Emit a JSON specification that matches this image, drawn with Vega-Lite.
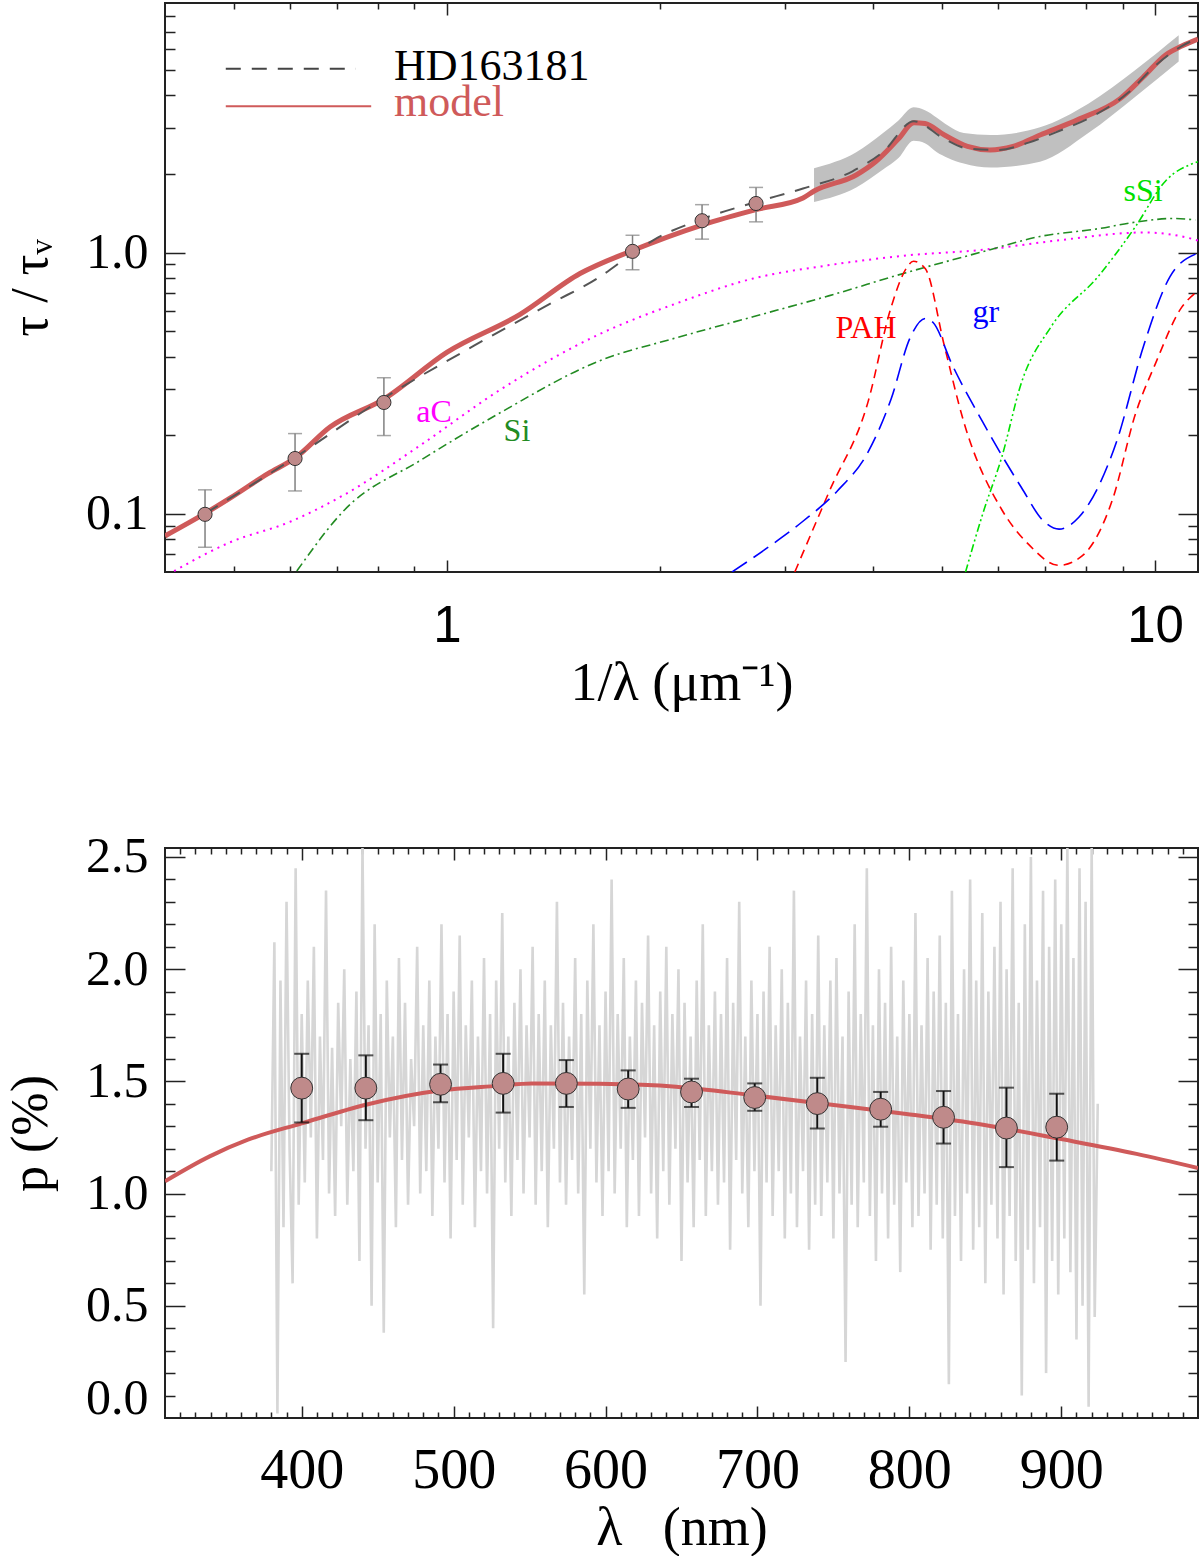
{
  "$schema": "https://vega.github.io/schema/vega-lite/v6.json",
  "background": "white",
  "padding": {"left": 3, "top": 1, "right": 0, "bottom": 0},
  "bounds": "flush",
  "spacing": 276,
  "config": {
    "view": {"stroke": "#222222", "strokeWidth": 2},
    "axis": {
      "grid": false, "domain": false, "zindex": 1,
      "tickColor": "#222222", "tickWidth": 1.5,
      "labelFont": "Liberation Serif", "titleFont": "Liberation Serif",
      "labelColor": "black", "titleColor": "black", "titleFontWeight": "normal"
    }
  },
  "datasets": {
    "band": [
      {"k": 3.30, "lo": 1.561, "hi": 2.101}, {"k": 3.785, "lo": 1.774, "hi": 2.419},
      {"k": 4.13, "lo": 2.078, "hi": 2.864}, {"k": 4.343, "lo": 2.30, "hi": 3.20},
      {"k": 4.56, "lo": 2.677, "hi": 3.59}, {"k": 4.733, "lo": 2.62, "hi": 3.50},
      {"k": 4.92, "lo": 2.419, "hi": 3.278}, {"k": 5.10, "lo": 2.30, "hi": 3.06},
      {"k": 5.37, "lo": 2.188, "hi": 2.864},
      {"k": 5.86, "lo": 2.113, "hi": 2.814}, {"k": 6.88, "lo": 2.225, "hi": 3.012},
      {"k": 8.05, "lo": 2.864, "hi": 3.71}, {"k": 9.38, "lo": 3.944, "hi": 4.99},
      {"k": 10.8, "lo": 5.38, "hi": 6.77}
    ],
    "aC": [
      {"k": 0.412, "t": 0.0605}, {"k": 0.4935, "t": 0.0778}, {"k": 0.602, "t": 0.0936},
      {"k": 0.717, "t": 0.1186}, {"k": 0.919, "t": 0.1837}, {"k": 1.179, "t": 0.294},
      {"k": 1.645, "t": 0.488}, {"k": 2.11, "t": 0.639}, {"k": 2.706, "t": 0.795},
      {"k": 3.47, "t": 0.895}, {"k": 4.45, "t": 0.974}, {"k": 5.71, "t": 1.024},
      {"k": 7.32, "t": 1.114}, {"k": 9.64, "t": 1.193}, {"k": 11.3, "t": 1.126},
      {"k": 11.5, "t": 1.11}
    ],
    "Si": [
      {"k": 0.614, "t": 0.0605}, {"k": 0.717, "t": 0.1036}, {"k": 0.919, "t": 0.1607},
      {"k": 1.179, "t": 0.2405}, {"k": 1.645, "t": 0.3857}, {"k": 2.11, "t": 0.472},
      {"k": 2.706, "t": 0.568}, {"k": 3.47, "t": 0.684}, {"k": 4.45, "t": 0.837},
      {"k": 5.71, "t": 1.007}, {"k": 6.88, "t": 1.152}, {"k": 8.31, "t": 1.233},
      {"k": 9.38, "t": 1.306}, {"k": 10.6, "t": 1.35}, {"k": 11.4, "t": 1.332}
    ],
    "sSi": [
      {"k": 5.40, "t": 0.0599}, {"k": 5.71, "t": 0.1}, {"k": 6.08, "t": 0.166},
      {"k": 6.47, "t": 0.315}, {"k": 7.14, "t": 0.522}, {"k": 8.31, "t": 0.809},
      {"k": 9.38, "t": 1.254}, {"k": 10.35, "t": 1.878}, {"k": 11.5, "t": 2.225}
    ],
    "PAH": [
      {"k": 3.10, "t": 0.06}, {"k": 3.47, "t": 0.1225}, {"k": 3.93, "t": 0.266},
      {"k": 4.24, "t": 0.618}, {"k": 4.45, "t": 0.866}, {"k": 4.56, "t": 0.926},
      {"k": 4.74, "t": 0.866}, {"k": 5.04, "t": 0.441}, {"k": 5.37, "t": 0.225},
      {"k": 6.08, "t": 0.1036}, {"k": 6.63, "t": 0.0765}, {"k": 7.32, "t": 0.0636},
      {"k": 7.89, "t": 0.0691}, {"k": 8.72, "t": 0.1147}, {"k": 9.38, "t": 0.2405},
      {"k": 10.0, "t": 0.3726}, {"k": 10.91, "t": 0.618}, {"k": 11.45, "t": 0.707}
    ],
    "gr": [
      {"k": 2.527, "t": 0.06}, {"k": 2.88, "t": 0.0765}, {"k": 3.18, "t": 0.0936},
      {"k": 3.56, "t": 0.1225}, {"k": 3.93, "t": 0.1717}, {"k": 4.24, "t": 0.2753},
      {"k": 4.51, "t": 0.472}, {"k": 4.74, "t": 0.559}, {"k": 4.86, "t": 0.54},
      {"k": 5.17, "t": 0.3726}, {"k": 5.71, "t": 0.225}, {"k": 6.47, "t": 0.1268},
      {"k": 6.97, "t": 0.0936}, {"k": 7.32, "t": 0.0875}, {"k": 7.80, "t": 0.0969},
      {"k": 8.83, "t": 0.19}, {"k": 9.64, "t": 0.441}, {"k": 10.5, "t": 0.809},
      {"k": 11.45, "t": 0.99}
    ],
    "model": [
      {"k": 0.400, "t": 0.0824}, {"k": 0.4556, "t": 0.1005}, {"k": 0.4935, "t": 0.1147},
      {"k": 0.559, "t": 0.1427}, {"k": 0.6105, "t": 0.1637}, {"k": 0.684, "t": 0.215},
      {"k": 0.815, "t": 0.275}, {"k": 1.0, "t": 0.415}, {"k": 1.269, "t": 0.58},
      {"k": 1.542, "t": 0.831}, {"k": 1.829, "t": 1.018}, {"k": 2.293, "t": 1.274},
      {"k": 2.733, "t": 1.459}, {"k": 3.184, "t": 1.616}, {"k": 3.301, "t": 1.719},
      {"k": 3.785, "t": 1.979}, {"k": 4.03, "t": 2.224}, {"k": 4.343, "t": 2.722},
      {"k": 4.567, "t": 3.136}, {"k": 4.733, "t": 3.114}, {"k": 5.042, "t": 2.814},
      {"k": 5.434, "t": 2.545}, {"k": 5.848, "t": 2.466}, {"k": 6.302, "t": 2.545},
      {"k": 6.882, "t": 2.814}, {"k": 7.784, "t": 3.223}, {"k": 8.93, "t": 3.877},
      {"k": 9.61, "t": 4.67}, {"k": 10.36, "t": 5.71}, {"k": 10.91, "t": 6.16},
      {"k": 11.5, "t": 6.55}
    ],
    "hd": [
      {"k": 0.4554, "t": 0.1002}, {"k": 0.610, "t": 0.1643}, {"k": 0.811, "t": 0.2753},
      {"k": 1.094, "t": 0.441}, {"k": 1.403, "t": 0.639}, {"k": 1.630, "t": 0.795},
      {"k": 1.829, "t": 0.99}, {"k": 1.958, "t": 1.116}, {"k": 2.293, "t": 1.342},
      {"k": 2.733, "t": 1.56}, {"k": 3.184, "t": 1.757}, {"k": 3.74, "t": 2.044},
      {"k": 4.13, "t": 2.423}, {"k": 4.567, "t": 3.175}, {"k": 5.04, "t": 2.72},
      {"k": 5.434, "t": 2.5}, {"k": 6.0, "t": 2.466}, {"k": 6.63, "t": 2.632},
      {"k": 7.32, "t": 2.915}, {"k": 8.19, "t": 3.333}, {"k": 9.16, "t": 4.08},
      {"k": 10.0, "t": 5.17}, {"k": 10.91, "t": 6.16}, {"k": 11.5, "t": 6.6}
    ],
    "obs": [
      {"k": 0.4556, "t": 0.0997, "lo": 0.0746, "hi": 0.1237},
      {"k": 0.6105, "t": 0.163, "lo": 0.1225, "hi": 0.203},
      {"k": 0.815, "t": 0.267, "lo": 0.1995, "hi": 0.332},
      {"k": 1.829, "t": 1.01, "lo": 0.859, "hi": 1.164},
      {"k": 2.293, "t": 1.323, "lo": 1.125, "hi": 1.524},
      {"k": 2.733, "t": 1.54, "lo": 1.31, "hi": 1.774}
    ],
    "labels": [
      {"label": "aC", "k": 0.959, "t": 0.2455},
      {"label": "Si", "k": 1.256, "t": 0.2077},
      {"label": "PAH", "k": 3.907, "t": 0.514},
      {"label": "gr", "k": 5.77, "t": 0.592},
      {"label": "sSi", "k": 9.62, "t": 1.719}
    ],
    "legendLines": [
      {"item": "HD163181", "k": 0.4874, "k2": 0.7441, "t": 5.045},
      {"item": "model", "k": 0.4874, "k2": 0.782, "t": 3.626}
    ],
    "legendText": [
      {"item": "HD163181", "k": 0.842, "t": 4.587},
      {"item": "model", "k": 0.842, "t": 3.333}
    ],
    "pol": [
      {"w": 400, "p": 1.470, "lo": 1.317, "hi": 1.623},
      {"w": 442.2, "p": 1.470, "lo": 1.327, "hi": 1.616},
      {"w": 491.4, "p": 1.487, "lo": 1.407, "hi": 1.575},
      {"w": 532.6, "p": 1.491, "lo": 1.361, "hi": 1.623},
      {"w": 574.2, "p": 1.491, "lo": 1.386, "hi": 1.595},
      {"w": 614.9, "p": 1.466, "lo": 1.382, "hi": 1.549},
      {"w": 656.6, "p": 1.453, "lo": 1.386, "hi": 1.512},
      {"w": 698.2, "p": 1.428, "lo": 1.369, "hi": 1.491},
      {"w": 739.4, "p": 1.401, "lo": 1.290, "hi": 1.516},
      {"w": 781.1, "p": 1.376, "lo": 1.298, "hi": 1.453},
      {"w": 822.5, "p": 1.340, "lo": 1.223, "hi": 1.457},
      {"w": 863.9, "p": 1.292, "lo": 1.118, "hi": 1.472},
      {"w": 897.0, "p": 1.296, "lo": 1.147, "hi": 1.445}
    ],
    "polModel": [
      {"w": 310, "p": 1.055}, {"w": 339.4, "p": 1.166}, {"w": 364.6, "p": 1.240},
      {"w": 400, "p": 1.313}, {"w": 442.9, "p": 1.397}, {"w": 490.9, "p": 1.459},
      {"w": 528.8, "p": 1.480}, {"w": 551.5, "p": 1.491}, {"w": 596, "p": 1.489},
      {"w": 646.5, "p": 1.476}, {"w": 697, "p": 1.438}, {"w": 747.5, "p": 1.397},
      {"w": 798, "p": 1.355}, {"w": 848.5, "p": 1.307}, {"w": 899, "p": 1.244},
      {"w": 949.5, "p": 1.177}, {"w": 990, "p": 1.114}
    ],
    "spec": [
      {"w": 380, "p": 1.10}, {"w": 382, "p": 2.12}, {"w": 384, "p": 0.02}, {"w": 386, "p": 1.95}, {"w": 388, "p": 0.85},
      {"w": 390, "p": 2.30}, {"w": 392, "p": 1.20}, {"w": 394, "p": 0.60}, {"w": 396, "p": 2.45}, {"w": 398, "p": 0.95},
      {"w": 400, "p": 1.80}, {"w": 402, "p": 1.05}, {"w": 404, "p": 1.95}, {"w": 406, "p": 1.25}, {"w": 408, "p": 2.10},
      {"w": 410, "p": 0.80}, {"w": 412, "p": 1.70}, {"w": 414, "p": 1.15}, {"w": 416, "p": 2.35}, {"w": 418, "p": 1.00},
      {"w": 420, "p": 1.65}, {"w": 422, "p": 0.90}, {"w": 424, "p": 1.85}, {"w": 426, "p": 1.30}, {"w": 428, "p": 2.00},
      {"w": 430, "p": 0.95}, {"w": 432, "p": 1.60}, {"w": 434, "p": 1.10}, {"w": 436, "p": 1.90}, {"w": 438, "p": 0.70},
      {"w": 440, "p": 2.55}, {"w": 442, "p": 1.20}, {"w": 444, "p": 1.75}, {"w": 446, "p": 0.50}, {"w": 448, "p": 2.20},
      {"w": 450, "p": 1.05}, {"w": 452, "p": 1.80}, {"w": 454, "p": 0.38}, {"w": 456, "p": 1.95}, {"w": 458, "p": 1.25},
      {"w": 460, "p": 1.70}, {"w": 462, "p": 0.85}, {"w": 464, "p": 2.05}, {"w": 466, "p": 1.15}, {"w": 468, "p": 1.85},
      {"w": 470, "p": 0.95}, {"w": 472, "p": 1.60}, {"w": 474, "p": 1.30}, {"w": 476, "p": 2.10}, {"w": 478, "p": 1.00},
      {"w": 480, "p": 1.75}, {"w": 482, "p": 1.10}, {"w": 484, "p": 1.95}, {"w": 486, "p": 0.90}, {"w": 488, "p": 1.70},
      {"w": 490, "p": 1.20}, {"w": 492, "p": 2.20}, {"w": 494, "p": 1.05}, {"w": 496, "p": 1.80}, {"w": 498, "p": 0.80},
      {"w": 500, "p": 1.90}, {"w": 502, "p": 1.15}, {"w": 504, "p": 2.15}, {"w": 506, "p": 0.95}, {"w": 508, "p": 1.75},
      {"w": 510, "p": 1.25}, {"w": 512, "p": 1.95}, {"w": 514, "p": 0.85}, {"w": 516, "p": 1.70}, {"w": 518, "p": 1.10},
      {"w": 520, "p": 2.05}, {"w": 522, "p": 1.00}, {"w": 524, "p": 1.80}, {"w": 526, "p": 0.40}, {"w": 528, "p": 1.95},
      {"w": 530, "p": 1.20}, {"w": 532, "p": 2.25}, {"w": 534, "p": 1.05}, {"w": 536, "p": 1.70}, {"w": 538, "p": 0.90},
      {"w": 540, "p": 1.85}, {"w": 542, "p": 1.15}, {"w": 544, "p": 2.00}, {"w": 546, "p": 1.00}, {"w": 548, "p": 1.75},
      {"w": 550, "p": 1.25}, {"w": 552, "p": 2.10}, {"w": 554, "p": 0.95}, {"w": 556, "p": 1.80}, {"w": 558, "p": 1.10},
      {"w": 560, "p": 1.95}, {"w": 562, "p": 0.85}, {"w": 564, "p": 1.75}, {"w": 566, "p": 1.20}, {"w": 568, "p": 2.30},
      {"w": 570, "p": 1.05}, {"w": 572, "p": 1.85}, {"w": 574, "p": 0.95}, {"w": 576, "p": 1.70}, {"w": 578, "p": 1.15},
      {"w": 580, "p": 2.05}, {"w": 582, "p": 1.00}, {"w": 584, "p": 1.80}, {"w": 586, "p": 0.55}, {"w": 588, "p": 1.95},
      {"w": 590, "p": 1.20}, {"w": 592, "p": 2.20}, {"w": 594, "p": 1.05}, {"w": 596, "p": 1.75}, {"w": 598, "p": 0.90},
      {"w": 600, "p": 1.90}, {"w": 602, "p": 1.10}, {"w": 604, "p": 2.40}, {"w": 606, "p": 1.00}, {"w": 608, "p": 1.80},
      {"w": 610, "p": 1.20}, {"w": 612, "p": 2.05}, {"w": 614, "p": 0.85}, {"w": 616, "p": 1.70}, {"w": 618, "p": 1.15},
      {"w": 620, "p": 1.95}, {"w": 622, "p": 0.90}, {"w": 624, "p": 1.85}, {"w": 626, "p": 1.25}, {"w": 628, "p": 2.15},
      {"w": 630, "p": 1.00}, {"w": 632, "p": 1.75}, {"w": 634, "p": 0.80}, {"w": 636, "p": 1.90}, {"w": 638, "p": 1.10},
      {"w": 640, "p": 2.10}, {"w": 642, "p": 0.95}, {"w": 644, "p": 1.80}, {"w": 646, "p": 1.20}, {"w": 648, "p": 2.00},
      {"w": 650, "p": 0.70}, {"w": 652, "p": 1.85}, {"w": 654, "p": 1.05}, {"w": 656, "p": 1.70}, {"w": 658, "p": 0.85},
      {"w": 660, "p": 1.95}, {"w": 662, "p": 1.15}, {"w": 664, "p": 2.20}, {"w": 666, "p": 0.90}, {"w": 668, "p": 1.75},
      {"w": 670, "p": 1.10}, {"w": 672, "p": 1.90}, {"w": 674, "p": 0.95}, {"w": 676, "p": 1.80}, {"w": 678, "p": 1.05},
      {"w": 680, "p": 2.05}, {"w": 682, "p": 0.75}, {"w": 684, "p": 1.85}, {"w": 686, "p": 1.15}, {"w": 688, "p": 2.30},
      {"w": 690, "p": 1.00}, {"w": 692, "p": 1.70}, {"w": 694, "p": 0.85}, {"w": 696, "p": 1.95}, {"w": 698, "p": 1.10},
      {"w": 700, "p": 1.80}, {"w": 702, "p": 0.50}, {"w": 704, "p": 1.90}, {"w": 706, "p": 1.05}, {"w": 708, "p": 2.10},
      {"w": 710, "p": 0.90}, {"w": 712, "p": 1.75}, {"w": 714, "p": 1.10}, {"w": 716, "p": 2.00}, {"w": 718, "p": 0.80},
      {"w": 720, "p": 1.85}, {"w": 722, "p": 1.00}, {"w": 724, "p": 2.35}, {"w": 726, "p": 0.85}, {"w": 728, "p": 1.70},
      {"w": 730, "p": 1.10}, {"w": 732, "p": 1.95}, {"w": 734, "p": 0.75}, {"w": 736, "p": 1.80}, {"w": 738, "p": 0.95},
      {"w": 740, "p": 2.15}, {"w": 742, "p": 0.90}, {"w": 744, "p": 1.75}, {"w": 746, "p": 1.05}, {"w": 748, "p": 1.95},
      {"w": 750, "p": 0.80}, {"w": 752, "p": 2.05}, {"w": 754, "p": 1.00}, {"w": 756, "p": 1.70}, {"w": 758, "p": 0.25},
      {"w": 760, "p": 1.90}, {"w": 762, "p": 0.95}, {"w": 764, "p": 2.20}, {"w": 766, "p": 0.85}, {"w": 768, "p": 1.80},
      {"w": 770, "p": 1.05}, {"w": 772, "p": 2.45}, {"w": 774, "p": 0.90}, {"w": 776, "p": 1.75}, {"w": 778, "p": 0.70},
      {"w": 780, "p": 2.00}, {"w": 782, "p": 1.00}, {"w": 784, "p": 1.85}, {"w": 786, "p": 0.80}, {"w": 788, "p": 2.10},
      {"w": 790, "p": 0.95}, {"w": 792, "p": 1.70}, {"w": 794, "p": 0.65}, {"w": 796, "p": 1.95}, {"w": 798, "p": 1.05},
      {"w": 800, "p": 1.80}, {"w": 802, "p": 0.85}, {"w": 804, "p": 2.25}, {"w": 806, "p": 0.90}, {"w": 808, "p": 1.75},
      {"w": 810, "p": 1.00}, {"w": 812, "p": 2.05}, {"w": 814, "p": 0.75}, {"w": 816, "p": 1.90}, {"w": 818, "p": 0.95},
      {"w": 820, "p": 2.15}, {"w": 822, "p": 0.80}, {"w": 824, "p": 1.85}, {"w": 826, "p": 0.15}, {"w": 828, "p": 2.35},
      {"w": 830, "p": 0.90}, {"w": 832, "p": 1.80}, {"w": 834, "p": 0.70}, {"w": 836, "p": 2.00}, {"w": 838, "p": 1.00},
      {"w": 840, "p": 2.40}, {"w": 842, "p": 0.75}, {"w": 844, "p": 1.95}, {"w": 846, "p": 0.85}, {"w": 848, "p": 2.25},
      {"w": 850, "p": 0.60}, {"w": 852, "p": 1.90}, {"w": 854, "p": 0.95}, {"w": 856, "p": 2.10}, {"w": 858, "p": 0.80},
      {"w": 860, "p": 2.30}, {"w": 862, "p": 0.55}, {"w": 864, "p": 2.00}, {"w": 866, "p": 0.90}, {"w": 868, "p": 2.45},
      {"w": 870, "p": 0.70}, {"w": 872, "p": 1.85}, {"w": 874, "p": 0.10}, {"w": 876, "p": 2.20}, {"w": 878, "p": 0.75},
      {"w": 880, "p": 2.50}, {"w": 882, "p": 0.60}, {"w": 884, "p": 1.95}, {"w": 886, "p": 0.85}, {"w": 888, "p": 2.35},
      {"w": 890, "p": 0.20}, {"w": 892, "p": 2.10}, {"w": 894, "p": 0.70}, {"w": 896, "p": 2.40}, {"w": 898, "p": 0.55},
      {"w": 900, "p": 2.20}, {"w": 902, "p": 0.80}, {"w": 904, "p": 2.55}, {"w": 906, "p": 0.65}, {"w": 908, "p": 2.05},
      {"w": 910, "p": 0.35}, {"w": 912, "p": 2.45}, {"w": 914, "p": 0.50}, {"w": 916, "p": 2.30}, {"w": 918, "p": 0.05},
      {"w": 920, "p": 2.55}, {"w": 922, "p": 0.45}, {"w": 924, "p": 1.40}
    ]
  },
  "vconcat": [
    {
      "width": 1033,
      "height": 569,
      "resolve": {"axis": {"x": "independent", "y": "independent"}},
      "layer": [
        {
          "data": {"name": "band"},
          "mark": {"type": "area", "color": "#c0c0c0", "clip": true, "interpolate": "monotone"},
          "encoding": {
            "x": {"field": "k", "type": "quantitative",
              "scale": {"type": "log", "domain": [0.4, 11.5], "nice": false},
              "axis": {"orient": "bottom", "values": [1, 10], "format": ".0f", "ticks": false,
                "labelFont": "Liberation Sans", "labelFontSize": 51, "labelPadding": 29, "labelFlush": false,
                "title": "1/λ (μm⁻¹)", "titleFontSize": 54, "titlePadding": 5}},
            "y": {"field": "lo", "type": "quantitative",
              "scale": {"type": "log", "domain": [0.06, 9], "nice": false},
              "axis": {"orient": "left", "values": [0.1, 1], "format": ".1f", "ticks": false,
                "labelFontSize": 50, "labelPadding": 17, "labelFlush": false,
                "title": "τ / τᵥ", "titleFontSize": 52, "titlePadding": 28.5}},
            "y2": {"field": "hi"}
          }
        },
        {
          "data": {"name": "aC"},
          "mark": {"type": "line", "color": "#ff00ff", "strokeWidth": 2, "strokeDash": [2, 5], "clip": true, "interpolate": "monotone"},
          "encoding": {
            "x": {"field": "k", "type": "quantitative",
              "axis": {"orient": "bottom", "values": [1, 10], "labels": false, "tickSize": -12, "title": null}},
            "y": {"field": "t", "type": "quantitative",
              "axis": {"orient": "left", "values": [0.1, 1], "labels": false, "tickSize": -20, "title": null}}
          }
        },
        {
          "data": {"name": "Si"},
          "mark": {"type": "line", "color": "#228b22", "strokeWidth": 1.6, "strokeDash": [9, 4, 2, 4], "clip": true, "interpolate": "monotone"},
          "encoding": {
            "x": {"field": "k", "type": "quantitative",
              "axis": {"orient": "bottom", "values": [0.5, 0.6, 0.7, 0.8, 0.9, 2, 3, 4, 5, 6, 7, 8, 9], "labels": false, "tickSize": -6, "title": null}},
            "y": {"field": "t", "type": "quantitative",
              "axis": {"orient": "left", "values": [0.07, 0.08, 0.09, 0.2, 0.3, 0.4, 0.5, 0.6, 0.7, 0.8, 0.9, 2, 3, 4, 5, 6, 7, 8], "labels": false, "tickSize": -10, "title": null}}
          }
        },
        {
          "data": {"name": "sSi"},
          "mark": {"type": "line", "color": "#00e000", "strokeWidth": 1.6, "strokeDash": [8, 3, 2, 3, 2, 3], "clip": true, "interpolate": "monotone"},
          "encoding": {
            "x": {"field": "k", "type": "quantitative",
              "axis": {"orient": "top", "values": [1, 10], "labels": false, "tickSize": -12, "title": null}},
            "y": {"field": "t", "type": "quantitative",
              "axis": {"orient": "right", "values": [0.1, 1], "labels": false, "tickSize": -20, "title": null}}
          }
        },
        {
          "data": {"name": "PAH"},
          "mark": {"type": "line", "color": "#ff0000", "strokeWidth": 1.6, "strokeDash": [9, 6], "clip": true, "interpolate": "monotone"},
          "encoding": {
            "x": {"field": "k", "type": "quantitative",
              "axis": {"orient": "top", "values": [0.5, 0.6, 0.7, 0.8, 0.9, 2, 3, 4, 5, 6, 7, 8, 9], "labels": false, "tickSize": -6, "title": null}},
            "y": {"field": "t", "type": "quantitative",
              "axis": {"orient": "right", "values": [0.07, 0.08, 0.09, 0.2, 0.3, 0.4, 0.5, 0.6, 0.7, 0.8, 0.9, 2, 3, 4, 5, 6, 7, 8], "labels": false, "tickSize": -10, "title": null}}
          }
        },
        {
          "data": {"name": "gr"},
          "mark": {"type": "line", "color": "#0000ff", "strokeWidth": 1.6, "strokeDash": [18, 8], "clip": true, "interpolate": "monotone"},
          "encoding": {
            "x": {"field": "k", "type": "quantitative", "axis": null},
            "y": {"field": "t", "type": "quantitative", "axis": null}
          }
        },
        {
          "data": {"name": "model"},
          "mark": {"type": "line", "color": "#cf5a5a", "strokeWidth": 5, "clip": true, "interpolate": "monotone"},
          "encoding": {
            "x": {"field": "k", "type": "quantitative", "axis": null},
            "y": {"field": "t", "type": "quantitative", "axis": null}
          }
        },
        {
          "data": {"name": "hd"},
          "mark": {"type": "line", "color": "#555555", "strokeWidth": 2, "strokeDash": [15, 11], "clip": true, "interpolate": "monotone"},
          "encoding": {
            "x": {"field": "k", "type": "quantitative", "axis": null},
            "y": {"field": "t", "type": "quantitative", "axis": null}
          }
        },
        {
          "data": {"name": "obs"},
          "mark": {"type": "rule", "color": "#808080", "strokeWidth": 1.5},
          "encoding": {
            "x": {"field": "k", "type": "quantitative", "axis": null},
            "y": {"field": "lo", "type": "quantitative", "axis": null},
            "y2": {"field": "hi"}
          }
        },
        {
          "data": {"name": "obs"},
          "transform": [{"fold": ["lo", "hi"], "as": ["end", "t"]}],
          "mark": {"type": "tick", "orient": "horizontal", "color": "#808080", "size": 14, "thickness": 1.5},
          "encoding": {
            "x": {"field": "k", "type": "quantitative", "axis": null},
            "y": {"field": "t", "type": "quantitative", "axis": null}
          }
        },
        {
          "data": {"name": "obs"},
          "mark": {"type": "point", "shape": "circle", "filled": true, "fill": "#bf8a8a", "stroke": "#333333", "strokeWidth": 1, "size": 200, "opacity": 1},
          "encoding": {
            "x": {"field": "k", "type": "quantitative", "axis": null},
            "y": {"field": "t", "type": "quantitative", "axis": null}
          }
        },
        {
          "data": {"name": "labels"},
          "mark": {"type": "text", "font": "Liberation Serif", "fontSize": 32, "align": "center", "baseline": "middle"},
          "encoding": {
            "x": {"field": "k", "type": "quantitative", "axis": null},
            "y": {"field": "t", "type": "quantitative", "axis": null},
            "text": {"field": "label"},
            "color": {"field": "label", "type": "nominal", "legend": null,
              "scale": {"domain": ["aC", "Si", "PAH", "gr", "sSi"], "range": ["#ff00ff", "#228b22", "#ff0000", "#0000ff", "#00e000"]}}
          }
        },
        {
          "data": {"name": "legendLines"},
          "transform": [{"filter": "datum.item == 'HD163181'"}],
          "mark": {"type": "rule", "color": "#444444", "strokeWidth": 2, "strokeDash": [15, 11]},
          "encoding": {
            "x": {"field": "k", "type": "quantitative", "axis": null},
            "x2": {"field": "k2"},
            "y": {"field": "t", "type": "quantitative", "axis": null}
          }
        },
        {
          "data": {"name": "legendLines"},
          "transform": [{"filter": "datum.item == 'model'"}],
          "mark": {"type": "rule", "color": "#cf5a5a", "strokeWidth": 2},
          "encoding": {
            "x": {"field": "k", "type": "quantitative", "axis": null},
            "x2": {"field": "k2"},
            "y": {"field": "t", "type": "quantitative", "axis": null}
          }
        },
        {
          "data": {"name": "legendText"},
          "transform": [{"filter": "datum.item == 'HD163181'"}],
          "mark": {"type": "text", "font": "Liberation Serif", "fontSize": 44, "align": "left", "baseline": "alphabetic", "color": "black"},
          "encoding": {
            "x": {"field": "k", "type": "quantitative", "axis": null},
            "y": {"field": "t", "type": "quantitative", "axis": null},
            "text": {"field": "item"}
          }
        },
        {
          "data": {"name": "legendText"},
          "transform": [{"filter": "datum.item == 'model'"}],
          "mark": {"type": "text", "font": "Liberation Serif", "fontSize": 44, "align": "left", "baseline": "alphabetic", "color": "#cf5a5a"},
          "encoding": {
            "x": {"field": "k", "type": "quantitative", "axis": null},
            "y": {"field": "t", "type": "quantitative", "axis": null},
            "text": {"field": "item"}
          }
        }
      ]
    },
    {
      "width": 1033,
      "height": 570,
      "resolve": {"axis": {"x": "independent", "y": "independent"}},
      "layer": [
        {
          "data": {"name": "spec"},
          "mark": {"type": "line", "color": "#d6d6d6", "strokeWidth": 2.6, "clip": true},
          "encoding": {
            "x": {"field": "w", "type": "quantitative",
              "scale": {"domain": [310, 990], "nice": false, "zero": false},
              "axis": {"orient": "bottom", "values": [400, 500, 600, 700, 800, 900], "format": "d", "ticks": false,
                "labelFontSize": 56, "labelPadding": 25, "labelFlush": false,
                "title": "λ\u00a0\u00a0\u00a0(nm)", "titleFontSize": 54, "titlePadding": 3}},
            "y": {"field": "p", "type": "quantitative",
              "scale": {"domain": [0, 2.54], "nice": false, "zero": false},
              "axis": {"orient": "left", "values": [0, 0.5, 1, 1.5, 2, 2.5], "format": ".1f", "ticks": false,
                "labelFontSize": 50, "labelPadding": 17, "labelFlush": 2, "labelFlushOffset": 5,
                "title": "p (%)", "titleFontSize": 52, "titlePadding": 28.5}}
          }
        },
        {
          "data": {"name": "polModel"},
          "mark": {"type": "line", "color": "#cf5a5a", "strokeWidth": 4, "clip": true, "interpolate": "monotone"},
          "encoding": {
            "x": {"field": "w", "type": "quantitative",
              "axis": {"orient": "bottom", "values": [400, 500, 600, 700, 800, 900], "labels": false, "tickSize": -12, "title": null}},
            "y": {"field": "p", "type": "quantitative",
              "axis": {"orient": "left", "values": [0.5, 1, 1.5, 2, 2.5], "labels": false, "tickSize": -20, "title": null}}
          }
        },
        {
          "data": {"name": "pol"},
          "mark": {"type": "rule", "color": "#111111", "strokeWidth": 2},
          "encoding": {
            "x": {"field": "w", "type": "quantitative",
              "axis": {"orient": "bottom", "values": [320, 330, 340, 350, 360, 370, 380, 390, 410, 420, 430, 440, 450, 460, 470, 480, 490, 510, 520, 530, 540, 550, 560, 570, 580, 590, 610, 620, 630, 640, 650, 660, 670, 680, 690, 710, 720, 730, 740, 750, 760, 770, 780, 790, 810, 820, 830, 840, 850, 860, 870, 880, 890, 910, 920, 930, 940, 950, 960, 970, 980], "labels": false, "tickSize": -6, "title": null}},
            "y": {"field": "lo", "type": "quantitative",
              "axis": {"orient": "left", "values": [0.1, 0.2, 0.3, 0.4, 0.6, 0.7, 0.8, 0.9, 1.1, 1.2, 1.3, 1.4, 1.6, 1.7, 1.8, 1.9, 2.1, 2.2, 2.3, 2.4], "labels": false, "tickSize": -10, "title": null}},
            "y2": {"field": "hi"}
          }
        },
        {
          "data": {"name": "pol"},
          "transform": [{"fold": ["lo", "hi"], "as": ["end", "p"]}],
          "mark": {"type": "tick", "orient": "horizontal", "color": "#111111", "size": 15, "thickness": 2},
          "encoding": {
            "x": {"field": "w", "type": "quantitative",
              "axis": {"orient": "top", "values": [400, 500, 600, 700, 800, 900], "labels": false, "tickSize": -12, "title": null}},
            "y": {"field": "p", "type": "quantitative",
              "axis": {"orient": "right", "values": [0.5, 1, 1.5, 2, 2.5], "labels": false, "tickSize": -20, "title": null}}
          }
        },
        {
          "data": {"name": "pol"},
          "mark": {"type": "point", "shape": "circle", "filled": true, "fill": "#bf8a8a", "stroke": "#333333", "strokeWidth": 1, "size": 480, "opacity": 1},
          "encoding": {
            "x": {"field": "w", "type": "quantitative",
              "axis": {"orient": "top", "values": [320, 330, 340, 350, 360, 370, 380, 390, 410, 420, 430, 440, 450, 460, 470, 480, 490, 510, 520, 530, 540, 550, 560, 570, 580, 590, 610, 620, 630, 640, 650, 660, 670, 680, 690, 710, 720, 730, 740, 750, 760, 770, 780, 790, 810, 820, 830, 840, 850, 860, 870, 880, 890, 910, 920, 930, 940, 950, 960, 970, 980], "labels": false, "tickSize": -6, "title": null}},
            "y": {"field": "p", "type": "quantitative",
              "axis": {"orient": "right", "values": [0.1, 0.2, 0.3, 0.4, 0.6, 0.7, 0.8, 0.9, 1.1, 1.2, 1.3, 1.4, 1.6, 1.7, 1.8, 1.9, 2.1, 2.2, 2.3, 2.4], "labels": false, "tickSize": -10, "title": null}}
          }
        }
      ]
    }
  ]
}
